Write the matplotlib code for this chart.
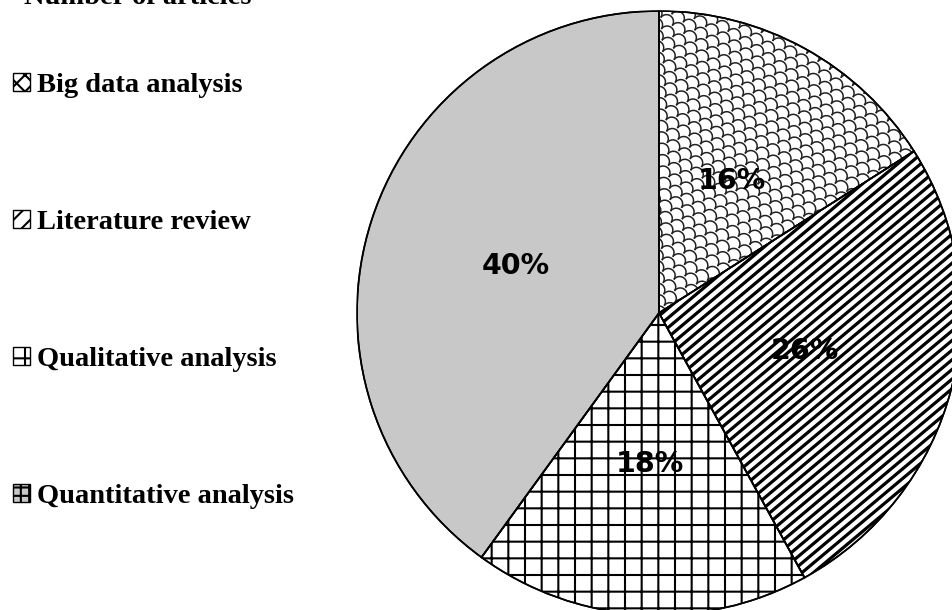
import numpy as np
import matplotlib.pyplot as plt
from matplotlib.collections import LineCollection
from matplotlib.patches import Patch, Wedge

# shares of articles by method
categories = ["Big data analysis", "Literature review",
              "Qualitative analysis", "Quantitative analysis"]
shares = [16, 26, 18, 40]
title = "Number of articles"

plt.rcParams["hatch.linewidth"] = 1.5
plt.rcParams["hatch.color"] = "black"

serif_bold = dict(family="Liberation Serif", weight="bold", size=20.5)

fig = plt.figure(figsize=(9.52, 6.1), dpi=100)

# pie axes: centre at (659, 313) px, radius 302 px
ax = fig.add_axes([357 / 952, -5 / 610, 604 / 952, 604 / 610])

wedges, texts, autotexts = ax.pie(
    shares,
    startangle=90,
    counterclock=False,
    colors=["white", "white", "white", "#c8c8c8"],
    hatch=[None, None, "+", None],
    autopct="%1.0f%%",
    pctdistance=0.5,
    wedgeprops=dict(edgecolor="black", linewidth=1.2),
    textprops=dict(fontsize=20.5, fontweight="bold", family="DejaVu Sans"),
)
ax.set_xlim(-1, 1)
ax.set_ylim(-1, 1)
ax.axis("off")

px = 1 / 302.0  # one pixel in data units


def rot(u, v, ang):
    c, s = np.cos(ang), np.sin(ang)
    return u * c - v * s, u * s + v * c


# fish-scale texture for the first wedge
w, h = 14 * px, 9 * px
ang = np.deg2rad(-35)
t = np.linspace(0, np.pi, 12)
segs = []
for j in range(-160, 160):
    for i in range(-110, 110):
        cu = i * w + (j % 2) * w / 2
        cv = j * h
        u = cu + (w / 2) * np.cos(t)
        v = cv + (w / 2) * np.sin(t)
        x, y = rot(u, v, ang)
        if -0.1 < x.mean() < 1.1 and -0.1 < y.mean() < 1.1:
            segs.append(np.column_stack([x, y]))
scales = LineCollection(segs, colors="#222222", linewidths=1.1, zorder=2)
ax.add_collection(scales)
scales.set_clip_path(wedges[0])

# diagonal stripes for the second wedge
ang = np.deg2rad(40)
d = 7.4 * px
dirv = np.array([np.cos(ang), np.sin(ang)])
nrm = np.array([-np.sin(ang), np.cos(ang)])
segs = []
for k in np.arange(-1.6, 1.6, d):
    segs.append([k * nrm - 2 * dirv, k * nrm + 2 * dirv])
stripes = LineCollection(segs, colors="black", linewidths=2.3, zorder=2)
ax.add_collection(stripes)
stripes.set_clip_path(wedges[1])

# outlines on top of the textures
for w_ in wedges:
    w_.set_zorder(1)
    ax.add_patch(Wedge(w_.center, w_.r, w_.theta1, w_.theta2, fill=False,
                       edgecolor="black", linewidth=1.2, zorder=3))
for t_ in autotexts:
    t_.set_zorder(4)

fig.text(252 / 952, 1 - 4 / 610, title, ha="right", va="baseline", **serif_bold)

handles = [
    Patch(facecolor="white", edgecolor="black", hatch="xx"),
    Patch(facecolor="white", edgecolor="black", hatch="//"),
    Patch(facecolor="white", edgecolor="black", hatch="+"),
    Patch(facecolor="#c8c8c8", edgecolor="black", hatch="++"),
]
fig.legend(handles, categories, loc="upper left",
           bbox_to_anchor=(13 / 952, 1 - 73 / 610),
           prop=serif_bold, frameon=False, labelspacing=3.93,
           handlelength=0.6, handleheight=0.6, handletextpad=0.25,
           borderpad=0, borderaxespad=0)

fig.savefig("out.png", dpi=100)
